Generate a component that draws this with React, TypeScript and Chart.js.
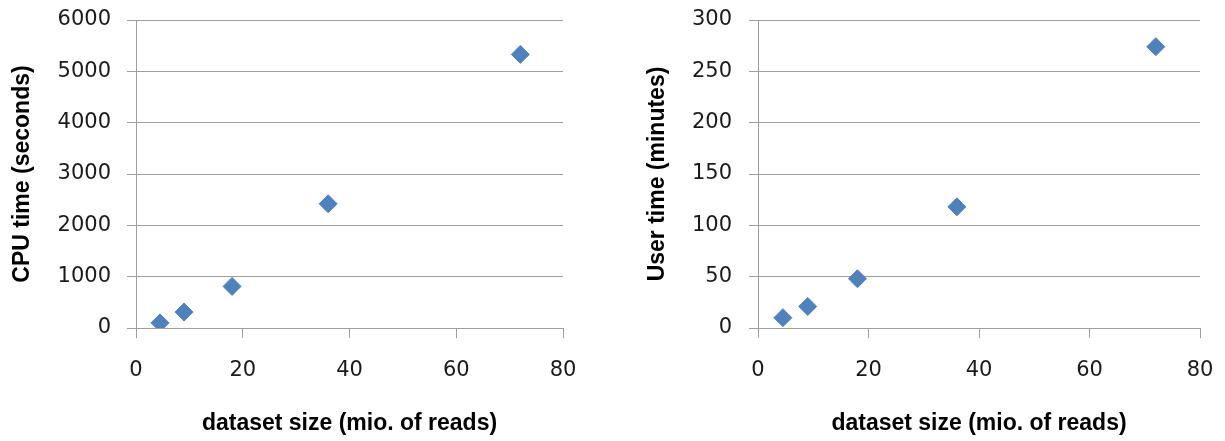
import React, { useEffect, useRef } from "react";
import { Chart, registerables } from "chart.js";

Chart.register(...registerables);

const datasetSizes = [4.5, 9, 18, 36, 72];
const cpuTimeSeconds = [100, 310, 810, 2420, 5330];
const userTimeMinutes = [10, 21, 48, 118, 274];

const xTitle = "dataset size (mio. of reads)";
const cpuTitle = "CPU time (seconds)";
const userTitle = "User time (minutes)";

const MARKER = "#4F81BD";
const GRID = "#9e9e9e";
const TICK_FONT = { family: "'DejaVu Sans'", size: 21 };
const TITLE_FONT = { family: "'Liberation Sans'", size: 23, weight: "bold" as const };

type PanelProps = {
  left: number;
  width: number;
  values: number[];
  yMax: number;
  yStep: number;
  yTitle: string;
  yAxisWidth: number;
  yTitlePad: number;
  yTickPad: number;
  rightPad: number;
};

function Panel(p: PanelProps) {
  const ref = useRef<HTMLCanvasElement | null>(null);
  useEffect(() => {
    if (!ref.current) return;
    const points = datasetSizes.map((x, i) => ({ x, y: p.values[i] }));
    const chart = new Chart(ref.current, {
      type: "scatter",
      data: {
        datasets: [
          {
            data: points,
            pointStyle: "rectRot",
            pointRadius: 9,
            pointHoverRadius: 9,
            backgroundColor: MARKER,
            borderColor: MARKER,
            borderWidth: 1,
          },
        ],
      },
      options: {
        animation: false,
        responsive: false,
        events: [],
        layout: { padding: { top: 20, left: 0, right: p.rightPad, bottom: 0 } },
        plugins: { legend: { display: false }, tooltip: { enabled: false } },
        scales: {
          x: {
            type: "linear",
            min: 0,
            max: 80,
            ticks: { stepSize: 20, color: "#1a1a1a", font: TICK_FONT, padding: 20, maxRotation: 0, callback: (v: any) => String(v) },
            grid: { drawOnChartArea: false, drawTicks: true, tickLength: 10, color: GRID, lineWidth: 1 },
            border: { display: true, color: GRID, width: 1 },
            title: { display: true, text: xTitle, color: "#000", font: TITLE_FONT, padding: { top: 0, bottom: 4 } },
            afterFit: (s: any) => {
              s.height = 113;
              s.paddingLeft = 0;
              s.paddingRight = 0;
            },
          },
          y: {
            type: "linear",
            min: 0,
            max: p.yMax,
            ticks: { stepSize: p.yStep, color: "#1a1a1a", font: TICK_FONT, padding: p.yTickPad, callback: (v: any) => String(v) },
            grid: { drawOnChartArea: true, drawTicks: true, tickLength: 9, color: GRID, lineWidth: 1 },
            border: { display: true, color: GRID, width: 1 },
            title: { display: true, text: p.yTitle, color: "#000", font: TITLE_FONT, padding: { top: p.yTitlePad, bottom: 0 } },
            afterFit: (s: any) => {
              s.width = p.yAxisWidth;
              s.paddingTop = 0;
              s.paddingBottom = 0;
            },
          },
        },
      },
    } as any);
    return () => chart.destroy();
  }, []);
  return (
    <div style={{ position: "absolute", left: p.left, top: 0, width: p.width, height: 441 }}>
      <canvas ref={ref} width={p.width} height={441} style={{ width: p.width, height: 441, display: "block" }} />
    </div>
  );
}

export default function App() {
  return (
    <div style={{ position: "fixed", left: 0, top: 0, width: 1225, height: 441, background: "#fff", overflow: "hidden" }}>
      <Panel left={0} width={612} values={cpuTimeSeconds} yMax={6000} yStep={1000} yTitle={cpuTitle}
        yAxisWidth={136} yTitlePad={9} yTickPad={16} rightPad={49} />
      <Panel left={612} width={613} values={userTimeMinutes} yMax={300} yStep={50} yTitle={userTitle}
        yAxisWidth={146} yTitlePad={32} yTickPad={17} rightPad={25} />
    </div>
  );
}
